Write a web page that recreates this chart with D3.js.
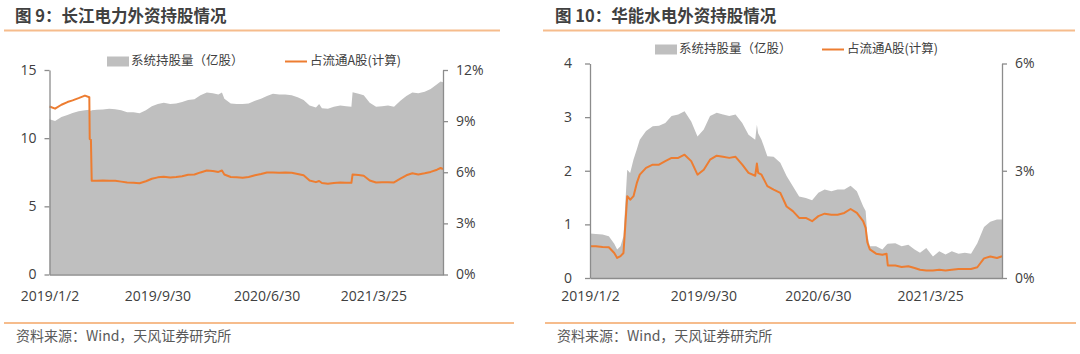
<!DOCTYPE html>
<html>
<head>
<meta charset="utf-8">
<script src="https://cdn.jsdelivr.net/npm/d3@7"></script>
<style>
  body { margin: 0; background: #fff; }
  svg { display: block; }
</style>
</head>
<body>
<div id="chart"></div>
<script>
// ---- data: 长江电力 (figure 9) ----
const cjDates = [
  "2019-01-02","2019-01-16","2019-02-01","2019-02-16","2019-03-01","2019-03-16","2019-04-01","2019-04-12",
  "2019-04-13","2019-04-16","2019-04-18","2019-05-01","2019-05-16","2019-06-01","2019-06-16","2019-07-01",
  "2019-07-16","2019-08-01","2019-08-16","2019-09-01","2019-09-16","2019-10-01","2019-10-16","2019-11-01",
  "2019-11-16","2019-12-01","2019-12-16","2020-01-01","2020-01-16","2020-02-01","2020-02-16","2020-03-01",
  "2020-03-10","2020-03-16","2020-04-01","2020-04-16","2020-05-01","2020-05-16","2020-06-01","2020-06-16",
  "2020-07-01","2020-07-16","2020-08-01","2020-08-16","2020-09-01","2020-09-16","2020-10-01","2020-10-16",
  "2020-11-01","2020-11-09","2020-11-16","2020-12-01","2020-12-16","2021-01-01","2021-01-16","2021-01-29",
  "2021-02-01","2021-02-16","2021-03-01","2021-03-16","2021-04-01","2021-04-16","2021-05-01","2021-05-16",
  "2021-06-01","2021-06-16","2021-07-01","2021-07-16","2021-08-01","2021-08-16","2021-09-01","2021-09-10",
  "2021-09-16"
];
const cjShares = [
  11.38,11.26,11.55,11.70,11.85,11.98,12.05,12.08,
  12.05,12.00,12.05,12.08,12.10,12.15,12.12,12.05,
  11.90,11.90,11.82,12.05,12.35,12.50,12.60,12.50,
  12.55,12.65,12.80,12.85,13.15,13.35,13.30,13.20,
  13.35,12.90,12.55,12.50,12.50,12.55,12.75,12.90,
  13.10,13.25,13.20,13.20,13.15,13.00,12.80,12.40,
  12.25,12.50,12.20,12.15,12.30,12.40,12.35,12.30,
  13.37,13.25,13.15,12.60,12.30,12.35,12.40,12.30,
  12.75,13.10,13.35,13.30,13.40,13.60,13.95,14.15,
  14.10
];
const cjRatio = [
  9.86,9.73,9.96,10.12,10.22,10.35,10.50,10.40,
  7.95,7.90,5.50,5.50,5.52,5.50,5.50,5.45,
  5.40,5.38,5.35,5.47,5.62,5.70,5.74,5.69,
  5.72,5.77,5.85,5.87,5.99,6.10,6.07,6.02,
  6.10,5.87,5.72,5.70,5.68,5.72,5.82,5.90,
  5.99,5.99,5.97,5.99,5.97,5.90,5.82,5.52,
  5.42,5.49,5.37,5.32,5.37,5.40,5.38,5.38,
  5.87,5.84,5.80,5.52,5.40,5.42,5.42,5.40,
  5.62,5.82,5.94,5.87,5.94,6.02,6.15,6.25,
  6.19
];

// ---- data: 华能水电 (figure 10) ----
const hnDates = [
  "2019-01-02","2019-01-16","2019-02-01","2019-02-16","2019-03-01","2019-03-08","2019-03-16","2019-03-23",
  "2019-04-01","2019-04-08","2019-04-16","2019-04-24","2019-05-01","2019-05-16","2019-06-01","2019-06-16",
  "2019-07-01","2019-07-16","2019-08-01","2019-08-16","2019-09-01","2019-09-16","2019-10-01","2019-10-16",
  "2019-11-01","2019-11-16","2019-12-01","2019-12-16","2020-01-01","2020-01-16","2020-02-01","2020-02-05",
  "2020-02-08","2020-02-16","2020-03-01","2020-03-16","2020-04-01","2020-04-16","2020-05-01","2020-05-16",
  "2020-06-01","2020-06-16","2020-07-01","2020-07-16","2020-08-01","2020-08-16","2020-09-01","2020-09-16",
  "2020-10-01","2020-10-16","2020-10-22","2020-10-26","2020-11-01","2020-11-16","2020-12-01","2020-12-11",
  "2020-12-14","2021-01-01","2021-01-16","2021-02-01","2021-02-16","2021-03-01","2021-03-16","2021-04-01",
  "2021-04-16","2021-05-01","2021-05-16","2021-06-01","2021-06-16","2021-07-01","2021-07-16","2021-08-01",
  "2021-08-16","2021-09-01","2021-09-13"
];
const hnShares = [
  0.83,0.82,0.81,0.78,0.64,0.53,0.59,0.78,
  2.02,1.96,2.21,2.40,2.58,2.74,2.83,2.84,
  2.89,3.02,3.05,3.11,2.92,2.64,2.77,3.02,
  3.08,3.05,3.02,3.05,2.89,2.67,2.58,2.86,
  2.70,2.58,2.27,2.26,2.15,1.90,1.71,1.52,
  1.49,1.45,1.59,1.65,1.62,1.65,1.65,1.72,
  1.62,1.34,1.25,0.80,0.59,0.59,0.53,0.62,
  0.64,0.65,0.59,0.62,0.53,0.47,0.56,0.40,
  0.50,0.44,0.50,0.45,0.47,0.45,0.65,0.95,
  1.05,1.09,1.09
];
const hnRatio = [
  0.89,0.89,0.87,0.86,0.70,0.56,0.61,0.70,
  2.29,2.19,2.29,2.66,2.89,3.08,3.17,3.17,
  3.27,3.36,3.36,3.45,3.27,2.89,3.03,3.31,
  3.42,3.39,3.36,3.39,3.17,2.94,2.86,3.20,
  2.94,2.89,2.57,2.47,2.38,2.00,1.87,1.68,
  1.68,1.59,1.73,1.80,1.77,1.77,1.82,1.93,
  1.82,1.59,1.40,1.00,0.80,0.68,0.65,0.68,
  0.35,0.35,0.31,0.33,0.28,0.23,0.21,0.21,
  0.23,0.21,0.23,0.25,0.25,0.25,0.30,0.55,
  0.60,0.56,0.61
];

const xTickLabels   = ["2019/1/2", "2019/9/30", "2020/6/30", "2021/3/25"];
const cjShareTicks  = [0, 5, 10, 15];
const cjRatioTicks  = [0, 3, 6, 9, 12];
const hnShareTicks  = [0, 1, 2, 3, 4];
const hnRatioTicks  = [0, 3, 6];
const seriesNames   = ["系统持股量（亿股）", "占流通A股(计算)"];
const sourceText    = "资料来源：Wind，天风证券研究所";

// ---- styling ----
const GRAY   = "#bfbfbf";
const ORANGE = "#ED7D31";
const RULE   = "#F6BC8C";
const AXIS   = "#8c8c8c";
const TEXT   = "#404040";
const NUM_FONT = "'Open Sans', 'Noto Sans CJK SC', sans-serif";
const CJK_FONT = "'Noto Sans CJK SC', sans-serif";

const svg = d3.select("#chart").append("svg")
  .attr("width", 1080)
  .attr("height", 354);

const parseDate = d3.timeParse("%Y-%m-%d");
const parseTick = s => {
  const [y, m, d] = s.split("/").map(Number);
  return new Date(y, m - 1, d);
};

function drawPanel(o) {
  const g = svg.append("g");
  const data = o.dates.map((d, i) => ({ date: parseDate(d), v: o.shares[i], r: o.ratio[i] }));

  // title + rule
  g.append("text")
    .attr("x", o.titleX).attr("y", 17.5)
    .attr("dominant-baseline", "middle")
    .attr("font-family", CJK_FONT).attr("font-size", 16.5).attr("font-weight", 700)
    .attr("fill", TEXT)
    .text(o.title);
  g.append("line")
    .attr("x1", o.rule[0]).attr("x2", o.rule[1])
    .attr("y1", 30.5).attr("y2", 30.5)
    .attr("stroke", RULE).attr("stroke-width", 2);

  // scales
  const x = d3.scaleTime().domain(d3.extent(data, d => d.date)).range([o.l, o.r]);
  const yL = d3.scaleLinear().domain([0, d3.max(o.shareTicks)]).range([o.b, o.t]);
  const yR = d3.scaleLinear().domain([0, d3.max(o.ratioTicks)]).range([o.b, o.t]);

  // area + line
  g.append("path")
    .datum(data)
    .attr("fill", GRAY)
    .attr("d", d3.area().x(d => x(d.date)).y0(yL(0)).y1(d => yL(d.v)));

  g.append("path")
    .datum(data)
    .attr("fill", "none")
    .attr("stroke", ORANGE)
    .attr("stroke-width", 2)
    .attr("stroke-linejoin", "round")
    .attr("d", d3.line().x(d => x(d.date)).y(d => yR(d.r)));

  // axes
  const styleAxis = sel => {
    sel.select(".domain").attr("stroke", AXIS).attr("stroke-width", 1.3);
    sel.selectAll(".tick line").attr("stroke", AXIS).attr("stroke-width", 1.3);
    sel.selectAll("text").attr("fill", TEXT).attr("font-family", NUM_FONT).attr("font-size", 14);
  };

  g.append("g")
    .attr("transform", `translate(${o.l},0)`)
    .call(d3.axisLeft(yL).tickValues(o.shareTicks).tickSize(5).tickSizeOuter(0).tickPadding(o.leftPad)
      .tickFormat(d3.format("d")))
    .call(styleAxis);

  g.append("g")
    .attr("transform", `translate(${o.r},0)`)
    .call(d3.axisRight(yR).tickValues(o.ratioTicks).tickSize(5).tickSizeOuter(0).tickPadding(8)
      .tickFormat(d => d + "%"))
    .call(styleAxis);

  g.append("g")
    .attr("transform", `translate(0,${o.b})`)
    .call(d3.axisBottom(x).tickValues(xTickLabels.map(parseTick)).tickSize(0).tickSizeOuter(0)
      .tickPadding(296 - o.b - 5).tickFormat((d, i) => xTickLabels[i]))
    .call(styleAxis);

  // legend
  const lg = g.append("g")
    .attr("font-family", CJK_FONT).attr("font-size", 12.5).attr("fill", TEXT);
  lg.append("rect")
    .attr("x", o.legX[0]).attr("y", o.legY - 5)
    .attr("width", 22).attr("height", 10)
    .attr("fill", GRAY);
  lg.append("text")
    .attr("x", o.legX[0] + 24).attr("y", o.legY)
    .attr("dominant-baseline", "middle")
    .text(seriesNames[0]);
  lg.append("line")
    .attr("x1", o.legX[1]).attr("x2", o.legX[1] + 22)
    .attr("y1", o.legY).attr("y2", o.legY)
    .attr("stroke", ORANGE).attr("stroke-width", 2);
  lg.append("text")
    .attr("x", o.legX[1] + 25).attr("y", o.legY)
    .attr("dominant-baseline", "middle")
    .text(seriesNames[1]);

  // footer
  g.append("line")
    .attr("x1", o.foot[0]).attr("x2", o.foot[1])
    .attr("y1", 323).attr("y2", 323)
    .attr("stroke", RULE).attr("stroke-width", 2);
  g.append("text")
    .attr("x", o.foot[0] + 12).attr("y", 337)
    .attr("dominant-baseline", "middle")
    .attr("font-family", CJK_FONT).attr("font-size", 14)
    .attr("fill", "#595959")
    .text(sourceText);
}

drawPanel({
  title: "图 9：长江电力外资持股情况", titleX: 15, rule: [4, 500],
  dates: cjDates, shares: cjShares, ratio: cjRatio,
  shareTicks: cjShareTicks, ratioTicks: cjRatioTicks,
  l: 49.5, r: 443, t: 70, b: 274.5, leftPad: 8,
  legX: [107, 285], legY: 61.5, foot: [4, 514]
});

drawPanel({
  title: "图 10：华能水电外资持股情况", titleX: 555, rule: [543, 1075],
  dates: hnDates, shares: hnShares, ratio: hnRatio,
  shareTicks: hnShareTicks, ratioTicks: hnRatioTicks,
  l: 590, r: 1002, t: 63.5, b: 278, leftPad: 13,
  legX: [655, 822], legY: 49.5, foot: [545, 1076]
});
</script>
</body>
</html>
